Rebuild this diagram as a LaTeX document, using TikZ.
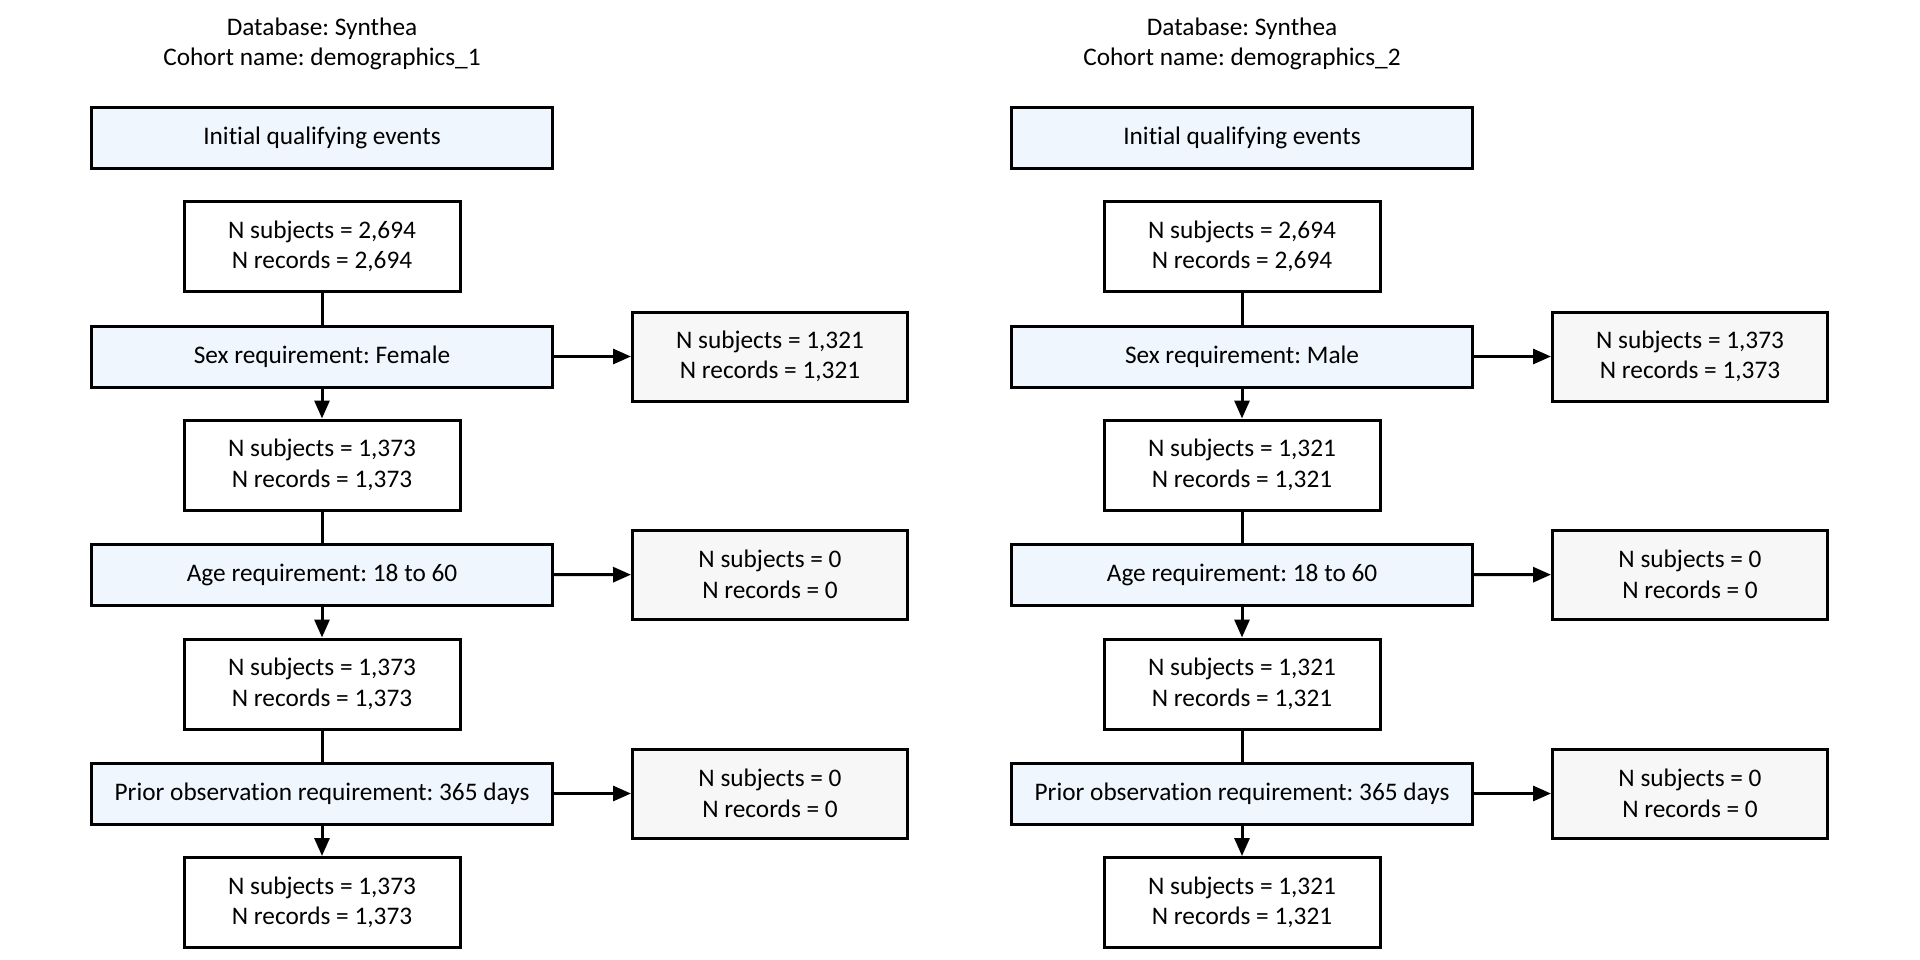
\documentclass[tikz,border=0pt]{standalone}
\usepackage{fontspec}
\setmainfont{Carlito}[Ligatures=NoCommon]
\usetikzlibrary{arrows.meta}
\definecolor{filt}{HTML}{EFF6FD}
\definecolor{excl}{HTML}{F7F7F7}
\frenchspacing
\begin{document}
\begin{tikzpicture}[x=1pt,y=-1pt,
 every node/.style={font=\fontsize{25.3}{30.6}\selectfont},
 filterbox/.style={draw, line width=3pt, fill=filt, minimum width=461pt, minimum height=61pt, inner sep=0pt},
 countbox/.style={draw, line width=3pt, fill=white, minimum width=276pt, minimum height=90pt, align=center, inner sep=0pt},
 exclbox/.style={countbox, fill=excl, minimum width=275pt, minimum height=89pt},
 header/.style={align=center, inner sep=0pt},
 link/.style={line width=3pt},
 arr/.style={link, -{Triangle[length=18pt,width=15pt]}}]
\useasboundingbox (0,0) rectangle (1920,960);
% ---------- left column ----------
\node[header] (Lh) at (322,44) {Database: Synthea\\Cohort name: demographics\_1};
\node[filterbox] (Linit) at (322,138) {Initial qualifying events};
\node[countbox] (Ln1) at (322,246.5) {N subjects = 2,694\\N records = 2,694};
\node[filterbox] (Lsex) at (322,356.5) {Sex requirement: Female};
\node[exclbox] (Le1) at (770,356.5) {N subjects = 1,321\\N records = 1,321};
\node[countbox] (Ln2) at (322,465) {N subjects = 1,373\\N records = 1,373};
\node[filterbox] (Lage) at (322,575) {Age requirement: 18 to 60};
\node[exclbox] (Le2) at (770,574.5) {N subjects = 0\\N records = 0};
\node[countbox] (Ln3) at (322,684) {N subjects = 1,373\\N records = 1,373};
\node[filterbox] (Lprior) at (322,793.5) {Prior observation requirement: 365 days};
\node[exclbox] (Le3) at (770,793.5) {N subjects = 0\\N records = 0};
\node[countbox] (Ln4) at (322,902.5) {N subjects = 1,373\\N records = 1,373};
\draw[link] (Ln1) -- (Lsex);
\draw[arr] (Lsex) -- (Ln2);
\draw[arr] (Lsex) -- (Le1);
\draw[link] (Ln2) -- (Lage);
\draw[arr] (Lage) -- (Ln3);
\draw[arr] (Lage) -- (Le2);
\draw[link] (Ln3) -- (Lprior);
\draw[arr] (Lprior) -- (Ln4);
\draw[arr] (Lprior) -- (Le3);
% ---------- right column ----------
\node[header] (Rh) at (1242,44) {Database: Synthea\\Cohort name: demographics\_2};
\node[filterbox] (Rinit) at (1242,138) {Initial qualifying events};
\node[countbox] (Rn1) at (1242,246.5) {N subjects = 2,694\\N records = 2,694};
\node[filterbox] (Rsex) at (1242,356.5) {Sex requirement: Male};
\node[exclbox] (Re1) at (1690,356.5) {N subjects = 1,373\\N records = 1,373};
\node[countbox] (Rn2) at (1242,465) {N subjects = 1,321\\N records = 1,321};
\node[filterbox] (Rage) at (1242,575) {Age requirement: 18 to 60};
\node[exclbox] (Re2) at (1690,574.5) {N subjects = 0\\N records = 0};
\node[countbox] (Rn3) at (1242,684) {N subjects = 1,321\\N records = 1,321};
\node[filterbox] (Rprior) at (1242,793.5) {Prior observation requirement: 365 days};
\node[exclbox] (Re3) at (1690,793.5) {N subjects = 0\\N records = 0};
\node[countbox] (Rn4) at (1242,902.5) {N subjects = 1,321\\N records = 1,321};
\draw[link] (Rn1) -- (Rsex);
\draw[arr] (Rsex) -- (Rn2);
\draw[arr] (Rsex) -- (Re1);
\draw[link] (Rn2) -- (Rage);
\draw[arr] (Rage) -- (Rn3);
\draw[arr] (Rage) -- (Re2);
\draw[link] (Rn3) -- (Rprior);
\draw[arr] (Rprior) -- (Rn4);
\draw[arr] (Rprior) -- (Re3);
\end{tikzpicture}
\end{document}
